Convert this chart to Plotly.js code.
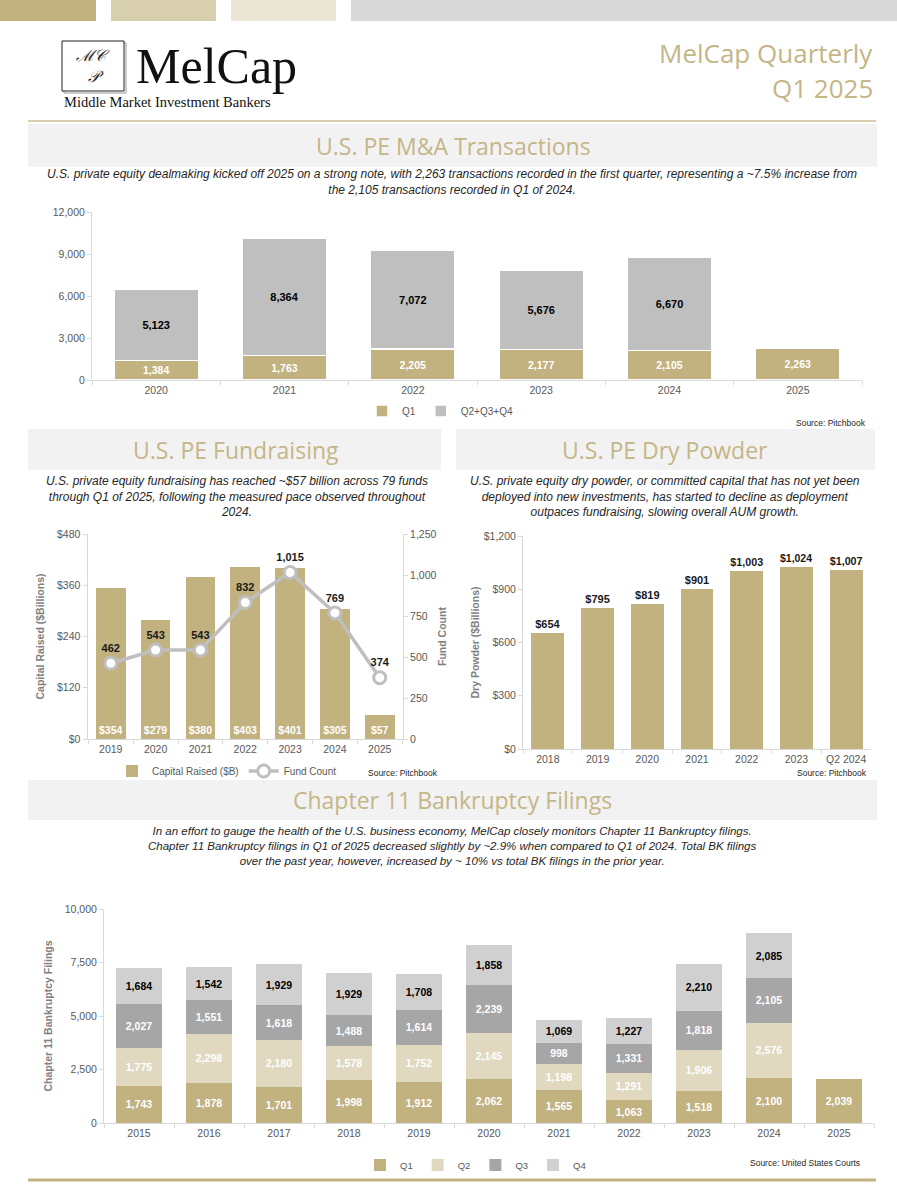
<!DOCTYPE html>
<html>
<head>
<meta charset="utf-8">
<script src="https://cdn.plot.ly/plotly-3.0.1.min.js"></script>
<style>
html,body{margin:0;padding:0;background:#fff;}
#page{width:897px;height:1200px;}
</style>
</head>
<body>
<div id="page"></div>
<script>
// ---------- DATA ----------
const maYears = ['2020','2021','2022','2023','2024','2025'];
const maQ1 = [1384, 1763, 2205, 2177, 2105, 2263];
const maRest = [5123, 8364, 7072, 5676, 6670, null];

const frYears = ['2019','2020','2021','2022','2023','2024','2025'];
const frCapital = [354, 279, 380, 403, 401, 305, 57];
const frFunds = [462, 543, 543, 832, 1015, 769, 374];

const dpYears = ['2018','2019','2020','2021','2022','2023','Q2 2024'];
const dpValues = [654, 795, 819, 901, 1003, 1024, 1007];

const bkYears = ['2015','2016','2017','2018','2019','2020','2021','2022','2023','2024','2025'];
const bkQ1 = [1743, 1878, 1701, 1998, 1912, 2062, 1565, 1063, 1518, 2100, 2039];
const bkQ2 = [1775, 2298, 2180, 1578, 1752, 2145, 1198, 1291, 1906, 2576, null];
const bkQ3 = [2027, 1551, 1618, 1488, 1614, 2239, 998, 1331, 1818, 2105, null];
const bkQ4 = [1684, 1542, 1929, 1929, 1708, 1858, 1069, 1227, 2210, 2085, null];

// ---------- STYLE ----------
const W = 897, H = 1200;
const TAN = '#c2b280', TAN_LIGHT = '#e0d9c0', GRAY = '#bfbfbf', GRAY_DARK = '#a6a6a6', GRAY_LIGHT = '#d0d0d0';
const TITLE_COLOR = '#c4b687';
const AXIS_TXT = '#595959';
const SANS = 'Liberation Sans, Arial, sans-serif';
const px = x => x / W;
const py = y => 1 - y / H;

function rect(x0, y0, x1, y1, fill, line) {
  return {type:'rect', xref:'paper', yref:'paper', x0:px(x0), x1:px(x1), y0:py(y1), y1:py(y0),
          fillcolor:fill, line: line || {width:0}, layer:'below'};
}
function hline(x0, x1, y, color, w) {
  return {type:'line', xref:'paper', yref:'paper', x0:px(x0), x1:px(x1), y0:py(y), y1:py(y),
          line:{color:color, width:w}};
}
function note(x, y, text, opt) {
  opt = opt || {};
  return Object.assign({xref:'paper', yref:'paper', x:px(x), y:py(y), text:text, showarrow:false,
    xanchor:'center', yanchor:'middle', align:'center',
    font:{family:SANS, size:11, color:'#262626'}}, opt);
}

function xAxis(dom, anchor) {
  return {domain:[px(dom[0]), px(dom[1])], anchor:anchor, type:'category', showgrid:false, zeroline:false,
    showline:true, linecolor:'#d9d9d9', linewidth:1, ticks:'outside', ticklen:4, tickcolor:'#d9d9d9',
    tickson:'boundaries', tickfont:{family:SANS, size:10.5, color:AXIS_TXT}, fixedrange:true};
}
function yAxis(top, bottom, range, dtick, anchor, extra) {
  return Object.assign({domain:[py(bottom), py(top)], anchor:anchor, range:range, dtick:dtick, showgrid:false,
    zeroline:false, showline:true, linecolor:'#d9d9d9', linewidth:1, ticks:'outside', ticklen:4,
    tickcolor:'#d9d9d9', tickformat:',', tickfont:{family:SANS, size:10.5, color:AXIS_TXT}, fixedrange:true}, extra || {});
}

const lblWhite = {family:SANS, size:10.5, color:'#ffffff'};
const lblDark = {family:SANS, size:11, color:'#1a1a1a'};

// ---------- TRACES ----------
const traces = [
  // M&A
  {type:'bar', name:'Q1', x:maYears, y:maQ1, xaxis:'x', yaxis:'y', marker:{color:TAN, line:{color:'#fff', width:1.5}},
   texttemplate:'<b>%{y:,}</b>', textposition:'inside', insidetextanchor:'middle', textangle:0,
   textfont:lblWhite, legend:'legend', hoverinfo:'skip'},
  {type:'bar', name:'Q2+Q3+Q4', x:maYears, y:maRest, xaxis:'x', yaxis:'y', marker:{color:GRAY, line:{color:'#fff', width:1.5}},
   texttemplate:'<b>%{y:,}</b>', textposition:'inside', insidetextanchor:'middle', textangle:0,
   textfont:{family:SANS, size:11, color:'#000'}, legend:'legend', hoverinfo:'skip'},
  // Fundraising
  {type:'bar', name:'Capital Raised ($B)', x:frYears, y:frCapital, xaxis:'x2', yaxis:'y2', marker:{color:TAN},
   texttemplate:'<b>$%{y:d}</b>', textposition:'inside', insidetextanchor:'start', textangle:0,
   textfont:lblWhite, legend:'legend2', hoverinfo:'skip'},
  {type:'scatter', mode:'lines+markers+text', name:'Fund Count', x:frYears, y:frFunds, xaxis:'x2', yaxis:'y3',
   line:{color:GRAY, width:3.5}, marker:{size:12, color:'#fff', line:{color:GRAY, width:3}},
   texttemplate:'<b>%{y:,}</b>', textposition:'top center', textfont:lblDark, cliponaxis:false,
   legend:'legend2', hoverinfo:'skip'},
  // Dry powder
  {type:'bar', name:'Dry Powder', x:dpYears, y:dpValues, xaxis:'x4', yaxis:'y4', marker:{color:TAN},
   texttemplate:'<b>$%{y:,}</b>', textposition:'outside', textangle:0, cliponaxis:false,
   textfont:lblDark, showlegend:false, hoverinfo:'skip'},
  // Bankruptcy
  {type:'bar', name:'Q1', x:bkYears, y:bkQ1, xaxis:'x5', yaxis:'y5', marker:{color:TAN},
   texttemplate:'<b>%{y:,}</b>', textposition:'inside', insidetextanchor:'middle', textangle:0,
   textfont:lblWhite, legend:'legend3', hoverinfo:'skip'},
  {type:'bar', name:'Q2', x:bkYears, y:bkQ2, xaxis:'x5', yaxis:'y5', marker:{color:TAN_LIGHT},
   texttemplate:'<b>%{y:,}</b>', textposition:'inside', insidetextanchor:'middle', textangle:0,
   textfont:lblWhite, legend:'legend3', hoverinfo:'skip'},
  {type:'bar', name:'Q3', x:bkYears, y:bkQ3, xaxis:'x5', yaxis:'y5', marker:{color:GRAY_DARK},
   texttemplate:'<b>%{y:,}</b>', textposition:'inside', insidetextanchor:'middle', textangle:0,
   textfont:lblWhite, legend:'legend3', hoverinfo:'skip'},
  {type:'bar', name:'Q4', x:bkYears, y:bkQ4, xaxis:'x5', yaxis:'y5', marker:{color:GRAY_LIGHT},
   texttemplate:'<b>%{y:,}</b>', textposition:'inside', insidetextanchor:'middle', textangle:0,
   textfont:{family:SANS, size:10.5, color:'#000'}, legend:'legend3', hoverinfo:'skip'}
];

// ---------- LAYOUT ----------
const shapes = [
  rect(0, 0, 96, 21, '#c2b280'),
  rect(111, 0, 216, 21, '#d8cfae'),
  rect(231, 0, 336, 21, '#ebe6d6'),
  rect(351, 0, 897, 21, '#d9d9d9'),
  // logo box
  {type:'rect', xref:'paper', yref:'paper', x0:px(64), x1:px(126), y0:py(93), y1:py(43), line:{color:'#9a9a9a', width:1}, fillcolor:'rgba(0,0,0,0)'},
  {type:'rect', xref:'paper', yref:'paper', x0:px(62), x1:px(124), y0:py(91), y1:py(41), line:{color:'#222', width:1}, fillcolor:'#fff'},
  hline(28, 876, 121, '#cdbf95', 1.5),
  rect(28, 124, 877, 167, '#f2f2f2'),
  rect(28, 429, 441, 470, '#f2f2f2'),
  rect(456, 429, 875, 470, '#f2f2f2'),
  rect(28, 780, 877, 820, '#f2f2f2'),
  hline(28, 876, 1180, '#c2b280', 3)
];

const annotations = [
  note(93, 66, '<i>ℳ𝒞<br> 𝒫</i>', {font:{family:'DejaVu Serif, serif', size:16, color:'#222'}}),
  note(134, 66, 'MelCap', {xanchor:'left', font:{family:'Liberation Serif, Times New Roman, serif', size:50, color:'#111'}}),
  note(62, 102, 'Middle Market Investment Bankers', {xanchor:'left', font:{family:'Liberation Serif, Times New Roman, serif', size:14.5, color:'#111'}}),
  note(875, 53, 'MelCap Quarterly', {xanchor:'right', font:{family:'Open Sans, sans-serif', size:26, color:TITLE_COLOR}}),
  note(875, 88, 'Q1 2025', {xanchor:'right', font:{family:'Open Sans, sans-serif', size:26, color:TITLE_COLOR}}),

  note(453, 146, 'U.S. PE M&A Transactions', {font:{family:'Open Sans, sans-serif', size:23, color:TITLE_COLOR}}),
  note(452, 182, '<i>U.S. private equity dealmaking kicked off 2025 on a strong note, with 2,263 transactions recorded in the first quarter, representing a ~7.5% increase from<br>the 2,105 transactions recorded in Q1 of 2024.</i>', {font:{family:SANS, size:12, color:'#262626'}}),
  note(868, 423, 'Source: Pitchbook', {xanchor:'right', font:{family:SANS, size:8.5, color:'#262626'}}),

  note(236, 450, 'U.S. PE Fundraising', {font:{family:'Open Sans, sans-serif', size:23, color:TITLE_COLOR}}),
  note(237, 496, '<i>U.S. private equity fundraising has reached ~$57 billion across 79 funds<br>through Q1 of 2025, following the measured pace observed throughout<br>2024.</i>', {font:{family:SANS, size:12, color:'#262626'}}),
  note(440, 773, 'Source: Pitchbook', {xanchor:'right', font:{family:SANS, size:8.5, color:'#262626'}}),

  note(665, 450, 'U.S. PE Dry Powder', {font:{family:'Open Sans, sans-serif', size:23, color:TITLE_COLOR}}),
  note(665, 496, '<i>U.S. private equity dry powder, or committed capital that has not yet been<br>deployed into new investments, has started to decline as deployment<br>outpaces fundraising, slowing overall AUM growth.</i>', {font:{family:SANS, size:12, color:'#262626'}}),
  note(869, 773, 'Source: Pitchbook', {xanchor:'right', font:{family:SANS, size:8.5, color:'#262626'}}),

  note(452, 800, 'Chapter 11 Bankruptcy Filings', {font:{family:'Open Sans, sans-serif', size:23, color:TITLE_COLOR}}),
  note(452, 846, '<i>In an effort to gauge the health of the U.S. business economy, MelCap closely monitors Chapter 11 Bankruptcy filings.<br>Chapter 11 Bankruptcy filings in Q1 of 2025 decreased slightly by ~2.9% when compared to Q1 of 2024. Total BK filings<br>over the past year, however, increased by ~ 10% vs total BK filings in the prior year.</i>', {font:{family:SANS, size:11.5, color:'#262626'}}),
  note(862, 1163, 'Source: United States Courts', {xanchor:'right', font:{family:SANS, size:8.5, color:'#262626'}})
];

const axTitle = (t) => ({text:'<b>'+t+'</b>', font:{family:SANS, size:10.5, color:'#7f7f7f'}});

const layout = {
  width:W, height:H, margin:{l:0, r:0, t:0, b:0}, paper_bgcolor:'#fff', plot_bgcolor:'rgba(0,0,0,0)',
  showlegend:true, barmode:'stack', bargap:0.34, font:{family:SANS},
  xaxis: xAxis([92, 862], 'y'),
  yaxis: yAxis(212, 380, [0, 12000], 3000, 'x'),
  xaxis2: xAxis([87.5, 403], 'y2'),
  yaxis2: yAxis(534, 739, [0, 480], 120, 'x2', {tickprefix:'$', title:Object.assign(axTitle('Capital Raised ($Billions)'), {standoff:10})}),
  yaxis3: yAxis(534, 739, [0, 1250], 250, 'x2', {overlaying:'y2', side:'right', title:Object.assign(axTitle('Fund Count'), {standoff:3})}),
  xaxis4: xAxis([523, 871], 'y4'),
  yaxis4: yAxis(536, 749, [0, 1200], 300, 'x4', {tickprefix:'$', title:Object.assign(axTitle('Dry Powder ($Billions)'), {standoff:2})}),
  xaxis5: xAxis([104, 874], 'y5'),
  yaxis5: yAxis(909, 1123, [0, 10000], 2500, 'x5', {title:Object.assign(axTitle('Chapter 11 Bankruptcy Filings'), {standoff:10})}),
  legend: {orientation:'h', x:px(362), y:py(411), xanchor:'left', yanchor:'middle', bgcolor:'rgba(0,0,0,0)',
           font:{family:SANS, size:10, color:AXIS_TXT}, itemwidth:30, traceorder:'normal'},
  legend2: {orientation:'h', x:px(112), y:py(771), xanchor:'left', yanchor:'middle', bgcolor:'rgba(0,0,0,0)',
           font:{family:SANS, size:10, color:AXIS_TXT}, itemwidth:30, traceorder:'normal'},
  legend3: {orientation:'h', x:px(360), y:py(1165), xanchor:'left', yanchor:'middle', bgcolor:'rgba(0,0,0,0)',
           font:{family:SANS, size:9.5, color:AXIS_TXT}, itemwidth:30, traceorder:'normal'},
  shapes: shapes,
  annotations: annotations,
  uniformtext: {mode:false}
};

Plotly.newPlot('page', traces, layout, {displayModeBar:false, staticPlot:true});
</script>
</body>
</html>
